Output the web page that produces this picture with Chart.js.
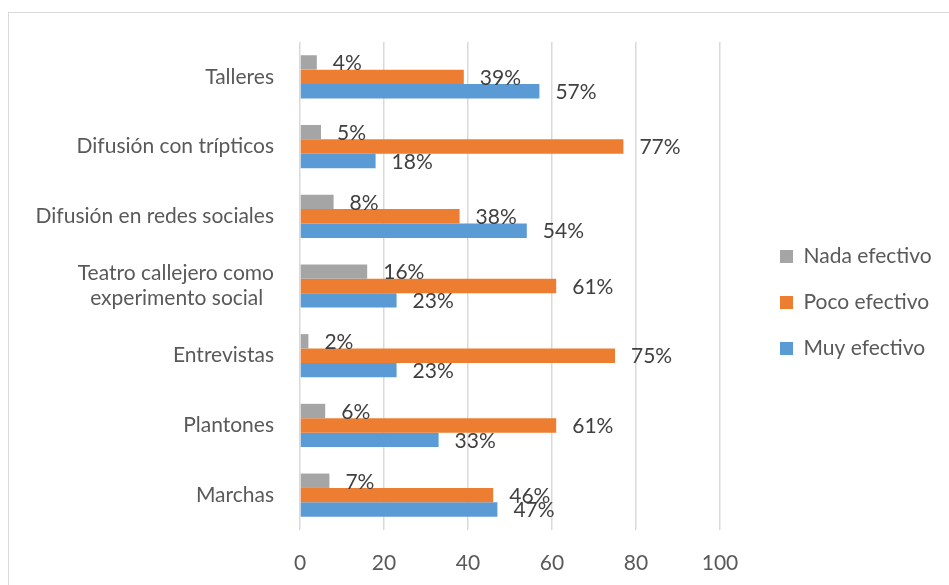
<!DOCTYPE html>
<html>
<head>
<meta charset="utf-8">
<script src="https://cdn.jsdelivr.net/npm/chart.js@4"></script>
<style>
  html, body { margin: 0; padding: 0; background: #fff; }
  body { width: 949px; height: 585px; position: relative; overflow: hidden; }
  #frame { position: absolute; left: 8px; top: 12px; width: 960px; height: 600px; border: 1px solid #d9d9d9; }
  #wrap { position: absolute; left: 0; top: 0; width: 949px; height: 585px; }
</style>
</head>
<body>
<div id="frame"></div>
<div id="wrap"><canvas id="chart"></canvas></div>
<script>
// categories, top to bottom
const categories = [
  "Talleres",
  "Difusión con trípticos",
  "Difusión en redes sociales",
  ["Teatro callejero como", "experimento social  "],
  "Entrevistas",
  "Plantones",
  "Marchas",
];
// percentages per series
const nadaEfectivo = [4, 5, 8, 16, 2, 6, 7];
const pocoEfectivo = [39, 77, 38, 61, 75, 61, 46];
const muyEfectivo = [57, 18, 54, 23, 23, 33, 47];
const xTicks = [0, 20, 40, 60, 80, 100];

const FONT = "Lato, 'Open Sans', sans-serif";
const PLOT_LEFT = 300;
const PLOT_BOTTOM = 530;
const LEGEND_WIDTH = 160;
const LEGEND_BOX_X = 780;

//draws the "xx%" labels after each bar
const barLabels = {
  id: "barLabels",
  afterDatasetsDraw(chart) {
    const ctx = chart.ctx;
    ctx.save();
    ctx.font = "21px " + FONT;
    ctx.fillStyle = "#404040";
    ctx.textAlign = "left";
    ctx.textBaseline = "middle";
    chart.data.datasets.forEach((ds, i) => {
      chart.getDatasetMeta(i).data.forEach((bar, j) => {
        ctx.fillText(ds.data[j] + "%", bar.x + 16, bar.y + 1);
      });
    });
    ctx.restore();
  },
};

//move the legend box away from the plot and lift it a little
const legendShift = {
  id: "legendShift",
  afterLayout(chart) {
    const lg = chart.legend;
    lg.left = LEGEND_BOX_X - lg.options.labels.padding;
    lg.right = chart.width;
    lg.width = lg.right - lg.left;
    lg.bottom -= 22;
    lg.height -= 22;
  },
};

new Chart(document.getElementById("chart"), {
  type: "bar",
  plugins: [barLabels, legendShift],
  data: {
    labels: categories,
    datasets: [
      { label: "Nada efectivo", data: nadaEfectivo, backgroundColor: "#A5A5A5" },
      { label: "Poco efectivo", data: pocoEfectivo, backgroundColor: "#ED7D31" },
      { label: "Muy efectivo", data: muyEfectivo, backgroundColor: "#5B9BD5" },
    ],
  },
  options: {
    indexAxis: "y",
    responsive: true,
    maintainAspectRatio: false,
    animation: false,
    datasets: { bar: { categoryPercentage: 0.62, barPercentage: 1 } },
    layout: { padding: { top: 42, bottom: 0, left: 0, right: 949 - 720 - LEGEND_WIDTH } },
    plugins: {
      tooltip: { enabled: false },
      legend: {
        position: "right",
        maxWidth: LEGEND_WIDTH,
        labels: {
          boxWidth: 13,
          boxHeight: 13,
          padding: 25,
          color: "#595959",
          font: { family: FONT, size: 21 },
        },
      },
    },
    scales: {
      x: {
        min: 0,
        max: 100,
        afterBuildTicks: (s) => { s.ticks = xTicks.map((v) => ({ value: v })); },
        afterFit: (s) => { s.height = 585 - PLOT_BOTTOM; },
        grid: { color: "#d9d9d9", lineWidth: 1.5, drawTicks: false },
        border: { display: false },
        ticks: { color: "#595959", font: { family: FONT, size: 21 }, padding: 21 },
      },
      y: {
        afterFit: (s) => { s.width = PLOT_LEFT; },
        grid: { display: false },
        border: { display: false },
        ticks: { color: "#595959", font: { family: FONT, size: 21 }, padding: 18 },
      },
    },
  },
});
</script>
</body>
</html>
